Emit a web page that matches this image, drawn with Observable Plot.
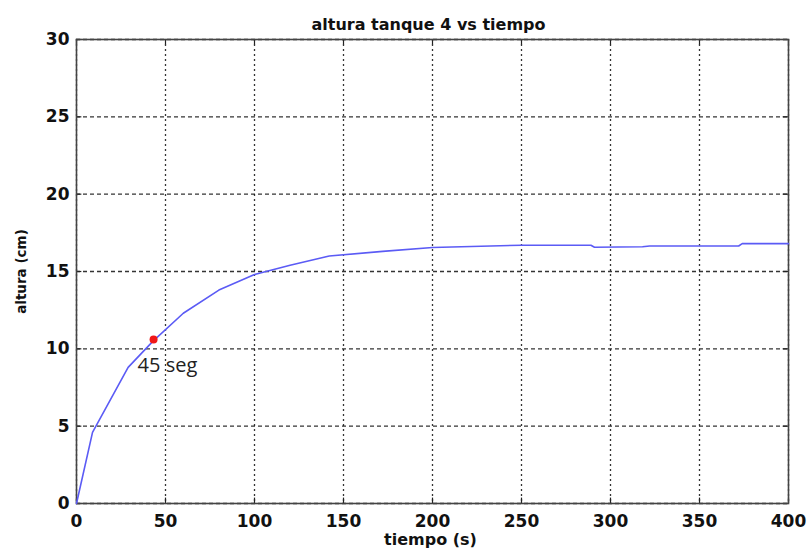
<!DOCTYPE html>
<html>
<head>
<meta charset="utf-8">
<script src="https://cdn.jsdelivr.net/npm/d3@7"></script>
<script src="https://cdn.jsdelivr.net/npm/@observablehq/plot@0.6"></script>
<style>
  html, body { margin: 0; padding: 0; background: #fff; }
  #chart svg { display: block; }
</style>
</head>
<body>
<div id="chart"></div>
<script>
// Data
const tiempo = [0, 9, 29, 43, 60, 80, 100, 120, 142, 172, 200, 250, 289, 291, 318, 322, 372, 374, 400];
const altura = [0, 4.6, 8.8, 10.5, 12.3, 13.8, 14.8, 15.4, 16.0, 16.3, 16.55, 16.7, 16.7, 16.57, 16.6, 16.65, 16.65, 16.8, 16.8];
const xTicks = [0, 50, 100, 150, 200, 250, 300, 350, 400];
const yTicks = [0, 5, 10, 15, 20, 25, 30];
const markT = [43.3];
const markH = [10.6];
const markLabel = ["45 seg"];
const title = "altura tanque 4 vs tiempo";
const xLabel = "tiempo (s)";
const yLabel = "altura (cm)";

const series = tiempo.map((t, i) => ({t, h: altura[i]}));
const marker = markT.map((t, i) => ({t, h: markH[i], label: markLabel[i]}));

const axisFont = {fontFamily: "DejaVu Sans", fontWeight: "bold", fontSize: 17, fill: "#111"};

const chart = Plot.plot({
  width: 807,
  height: 555,
  marginLeft: 76,
  marginRight: 19,
  marginTop: 39,
  marginBottom: 52,
  style: {background: "#fff", overflow: "visible"},
  x: {domain: [0, 400]},
  y: {domain: [0, 30]},
  marks: [
    Plot.gridX(xTicks, {stroke: "#111", strokeOpacity: 0.85, strokeWidth: 1.3, strokeDasharray: "2,3"}),
    Plot.gridY(yTicks, {stroke: "#111", strokeOpacity: 0.85, strokeWidth: 1.3, strokeDasharray: "4,3"}),
    // inward ticks
    Plot.ruleX(xTicks, {x: d => d, y1: 0, y2: 0.35, stroke: "#222", strokeWidth: 1.2}),
    Plot.ruleX(xTicks, {x: d => d, y1: 29.65, y2: 30, stroke: "#222", strokeWidth: 1.2}),
    Plot.ruleY(yTicks, {y: d => d, x1: 0, x2: 3, stroke: "#222", strokeWidth: 1.2}),
    Plot.ruleY(yTicks, {y: d => d, x1: 397, x2: 400, stroke: "#222", strokeWidth: 1.2}),
    Plot.frame({stroke: "#444", strokeWidth: 1.6}),
    Plot.axisX(xTicks, {tickSize: 0, tickPadding: 11, label: null, ...axisFont}),
    Plot.axisY(yTicks, {tickSize: 0, tickPadding: 7, label: null, ...axisFont}),
    Plot.line(series, {x: "t", y: "h", stroke: "#5b5bf5", strokeWidth: 1.6}),
    Plot.dot(marker, {x: "t", y: "h", r: 4, fill: "#f01818", stroke: "none"}),
    Plot.text(marker, {x: "t", y: "h", text: "label", textAnchor: "start", dx: -16, dy: 26,
      fontFamily: "Open Sans", fontSize: 20, fill: "#222"}),
    Plot.text([title], {frameAnchor: "top", text: d => d, dy: -21, dx: -4,
      fontFamily: "DejaVu Sans", fontWeight: "bold", fontSize: 16, fill: "#111"}),
    Plot.text([xLabel], {frameAnchor: "bottom", text: d => d, dy: 41, dx: -2,
      fontFamily: "DejaVu Sans", fontWeight: "bold", fontSize: 16, fill: "#111"}),
    Plot.text([yLabel], {frameAnchor: "left", textAnchor: "middle", text: d => d, dx: -55, rotate: -90,
      fontFamily: "DejaVu Sans", fontWeight: "bold", fontSize: 13.5, fill: "#111"})
  ]
});
document.getElementById("chart").appendChild(chart);
</script>
</body>
</html>
